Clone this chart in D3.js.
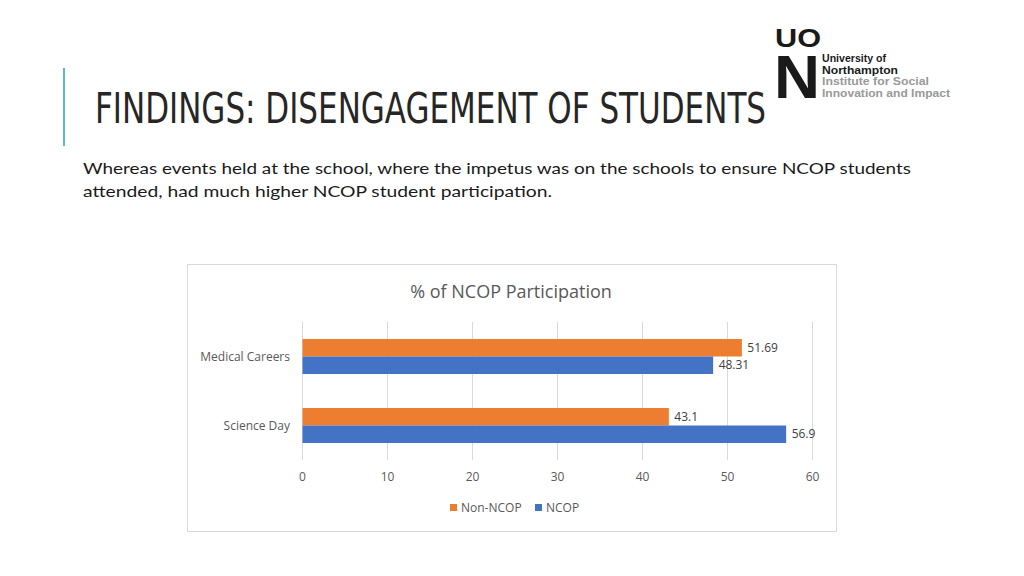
<!DOCTYPE html>
<html><head><meta charset="utf-8">
<script src="https://cdn.jsdelivr.net/npm/d3@7"></script>
<style>body{margin:0;background:#fff}svg{display:block}</style>
</head><body>
<svg id="c" width="1024" height="576"></svg>
<script>
const categories = ["Medical Careers", "Science Day"];
const seriesNames = ["Non-NCOP", "NCOP"];
const nonNcop = [51.69, 43.1];
const ncop = [48.31, 56.9];
const labels = [["51.69", "48.31"], ["43.1", "56.9"]];
const xTicks = [0, 10, 20, 30, 40, 50, 60];
const colors = ["#ed7d31", "#4472c4"];

const svg = d3.select("#c");
svg.append("rect").attr("width",1024).attr("height",576).attr("fill","#fff");

// slide decoration
svg.append("line").attr("x1",64).attr("x2",64).attr("y1",68).attr("y2",146).attr("stroke","#5bb8d6").attr("stroke-width",2);
svg.append("text").attr("x",95).attr("y",123).attr("font-family","DejaVu Sans Condensed, DejaVu Sans").attr("font-size",42).attr("font-weight",300)
  .attr("fill","#262626").attr("textLength",671).attr("lengthAdjust","spacingAndGlyphs").text("FINDINGS: DISENGAGEMENT OF STUDENTS");
const sub = ["Whereas events held at the school, where the impetus was on the schools to ensure NCOP students","attended, had much higher NCOP student participation."];
const subLen = [828, 469];
sub.forEach((s,i)=>svg.append("text").attr("x",83).attr("y",174+i*23).attr("font-family","Lato, Open Sans, sans-serif").attr("font-size",16)
  .attr("fill","#1a1a1a").attr("textLength",subLen[i]).attr("lengthAdjust","spacingAndGlyphs").text(s));

// logo
const logo = svg.append("g").attr("font-family","Liberation Sans Narrow, Liberation Sans, Arial").attr("font-weight","bold");
logo.append("text").attr("x",775).attr("y",47).attr("font-size",25).attr("fill","#1a1a1a").attr("textLength",46).attr("lengthAdjust","spacingAndGlyphs").text("UO");
logo.append("text").attr("x",774).attr("y",98).attr("font-size",62).attr("fill","#1a1a1a").attr("textLength",46).attr("lengthAdjust","spacingAndGlyphs").text("N");
const lt = [["University of","#1a1a1a",64],["Northampton","#1a1a1a",76],["Institute for Social","#999",107],["Innovation and Impact","#999",128]];
lt.forEach((d,i)=>logo.append("text").attr("x",822).attr("y",62+i*11.7).attr("font-size",11).attr("fill",d[1]).attr("textLength",d[2]).attr("lengthAdjust","spacingAndGlyphs").text(d[0]));

// chart
svg.append("rect").attr("x",187.5).attr("y",264.5).attr("width",649).attr("height",267).attr("fill","#fff").attr("stroke","#d9d9d9");
const ff = "Open Sans, Liberation Sans, sans-serif";
svg.append("text").attr("x",511).attr("y",298).attr("text-anchor","middle").attr("font-family",ff).attr("font-size",18).attr("fill","#595959").text("% of NCOP Participation");

const x = d3.scaleLinear().domain([0,60]).range([302,812]);
const y = d3.scaleBand().domain(categories).range([322,460]).paddingInner(0).paddingOuter(0);
const inner = d3.scaleBand().domain(seriesNames).range([0, 35]);

svg.append("g").selectAll("line").data(xTicks).join("line")
  .attr("x1",d=>x(d)+0.5).attr("x2",d=>x(d)+0.5).attr("y1",322).attr("y2",460).attr("stroke","#d9d9d9");

const series = [nonNcop, ncop];
categories.forEach((c,ci)=>{
  const y0 = y(c) + (y.bandwidth()-35)/2;
  seriesNames.forEach((s,si)=>{
    const v = series[si][ci];
    svg.append("rect").attr("x",x(0)+0.5).attr("y",y0+inner(s)).attr("width",x(v)-x(0)).attr("height",inner.bandwidth()).attr("fill",colors[si]);
    svg.append("text").attr("x",x(v)+6).attr("y",y0+inner(s)+inner.bandwidth()/2+4).attr("font-family",ff).attr("font-size",12).attr("fill","#404040").text(labels[ci][si]);
  });
  svg.append("text").attr("x",290).attr("y",y(c)+y.bandwidth()/2+4).attr("text-anchor","end").attr("font-family",ff).attr("font-size",12).attr("fill","#595959").text(c);
});

const ax = svg.append("g").attr("transform","translate(0,460)").call(d3.axisBottom(x).tickValues(xTicks).tickSize(0).tickPadding(12));
ax.select(".domain").remove();
ax.selectAll("text").attr("font-family",ff).attr("font-size",12).attr("fill","#595959");

// legend
const leg = svg.append("g");
const lx = [450, 535];
seriesNames.forEach((s,i)=>{
  leg.append("rect").attr("x",lx[i]).attr("y",504).attr("width",7).attr("height",7).attr("fill",colors[i]);
  leg.append("text").attr("x",lx[i]+11).attr("y",512).attr("font-family",ff).attr("font-size",12).attr("fill","#595959").text(s);
});
</script>
</body></html>
